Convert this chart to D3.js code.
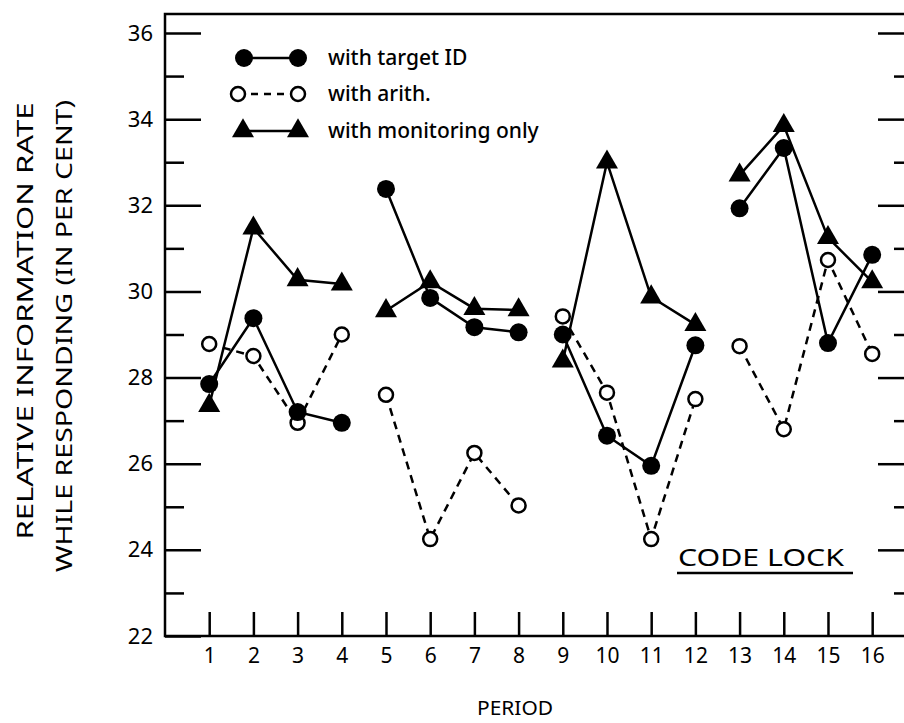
<!DOCTYPE html>
<html>
<head>
<meta charset="utf-8">
<script src="https://cdn.jsdelivr.net/npm/d3@7"></script>
<style>
  body { margin: 0; background: #fff; }
  svg { display: block; font-family: "Noto Sans", "DejaVu Sans", sans-serif; }
</style>
</head>
<body>
<div id="chart"></div>
<script>
// chart values
var periods = [1, 2, 3, 4, 5, 6, 7, 8, 9, 10, 11, 12, 13, 14, 15, 16];
var targetID = [27.85, 29.38, 27.2, 26.95, 32.38, 29.85, 29.17, 29.05,
                29.0, 26.65, 25.95, 28.75, 31.93, 33.33, 28.8, 30.85];
var arith = [28.78, 28.5, 26.95, 29.0, 27.6, 24.25, 26.25, 25.03,
             29.42, 27.65, 24.25, 27.5, 28.73, 26.8, 30.73, 28.55];
var monitoring = [27.35, 31.47, 30.27, 30.17, 29.55, 30.22, 29.6, 29.57,
                  28.38, 33.0, 29.87, 29.23, 32.7, 33.85, 31.25, 30.22];
var blocks = [[1, 4], [5, 8], [9, 12], [13, 16]];
var majorTicks = [22, 24, 26, 28, 30, 32, 34, 36];
var minorTicks = [23, 25, 27, 29, 31, 33, 35];
var legendLabels = ["with target ID", "with arith.", "with monitoring only"];

var WIDTH = 904, HEIGHT = 723;
var LEFT = 165, RIGHT = 904, TOP = 14, BOTTOM = 636;

var svg = d3.select("#chart").append("svg")
    .attr("width", WIDTH)
    .attr("height", HEIGHT);

var x = d3.scaleLinear().domain([0, 16.72]).range([LEFT, RIGHT]);
var y = d3.scaleLinear().domain([22, 36]).range([BOTTOM, 33]);

// frame: left, top and bottom lines
svg.append("path")
    .attr("d", "M" + RIGHT + "," + TOP + "H" + LEFT + "V" + BOTTOM + "H" + RIGHT)
    .attr("fill", "none").attr("stroke", "#000").attr("stroke-width", 2.5);

// left axis, ticks pointing inward
var leftMajor = svg.append("g").attr("transform", "translate(" + LEFT + ",0)")
    .call(d3.axisLeft(y).tickValues(majorTicks).tickSizeInner(-36).tickSizeOuter(0).tickPadding(12));
var leftMinor = svg.append("g").attr("transform", "translate(" + LEFT + ",0)")
    .call(d3.axisLeft(y).tickValues(minorTicks).tickSizeInner(-19).tickSizeOuter(0).tickFormat(""));

// right side ticks, no labels
var rightMajor = svg.append("g").attr("transform", "translate(" + RIGHT + ",0)")
    .call(d3.axisRight(y).tickValues(majorTicks.filter(function (d) { return d > 22; }))
        .tickSizeInner(-26).tickSizeOuter(0).tickFormat(""));
var rightMinor = svg.append("g").attr("transform", "translate(" + RIGHT + ",0)")
    .call(d3.axisRight(y).tickValues(minorTicks).tickSizeInner(-10).tickSizeOuter(0).tickFormat(""));

// bottom axis
var bottomAxis = svg.append("g").attr("transform", "translate(0," + BOTTOM + ")")
    .call(d3.axisBottom(x).tickValues(periods).tickSizeInner(-24).tickSizeOuter(0).tickPadding(12));

svg.selectAll(".domain").remove();
svg.selectAll(".tick line").attr("stroke", "#000").attr("stroke-width", 2.5);
leftMajor.selectAll("text").attr("font-size", 22).attr("fill", "#000").attr("font-family", "Noto Sans");
bottomAxis.selectAll("text").attr("font-size", 21).attr("fill", "#000").attr("font-family", "Noto Sans");

// axis titles
svg.append("text")
    .attr("transform", "translate(33,321) rotate(-90)")
    .attr("text-anchor", "middle")
    .attr("font-size", 21)
    .attr("textLength", 437).attr("lengthAdjust", "spacingAndGlyphs")
    .text("RELATIVE INFORMATION RATE");
svg.append("text")
    .attr("transform", "translate(72,336) rotate(-90)")
    .attr("text-anchor", "middle")
    .attr("font-size", 21)
    .attr("textLength", 472).attr("lengthAdjust", "spacingAndGlyphs")
    .text("WHILE RESPONDING (IN PER CENT)");
svg.append("text")
    .attr("x", 515).attr("y", 715)
    .attr("text-anchor", "middle")
    .attr("font-size", 19)
    .attr("textLength", 76).attr("lengthAdjust", "spacingAndGlyphs")
    .text("PERIOD");

// code lock label
svg.append("text")
    .attr("x", 678).attr("y", 566)
    .attr("font-size", 24)
    .attr("textLength", 166).attr("lengthAdjust", "spacingAndGlyphs")
    .text("CODE LOCK");
svg.append("line")
    .attr("x1", 677).attr("x2", 853).attr("y1", 573).attr("y2", 573)
    .attr("stroke", "#000").attr("stroke-width", 2.5);

// series
var series = [
    { values: arith, dash: "8,6", mark: "open" },
    { values: monitoring, dash: null, mark: "tri" },
    { values: targetID, dash: null, mark: "dot" }
];

var line = d3.line()
    .x(function (d) { return x(d.p); })
    .y(function (d) { return y(d.v); });

var triangle = d3.symbol().type(d3.symbolTriangle).size(210);

function drawMark(g, kind, cx, cy) {
    if (kind === "dot") {
        g.append("circle").attr("cx", cx).attr("cy", cy).attr("r", 9).attr("fill", "#000");
    } else if (kind === "open") {
        g.append("circle").attr("cx", cx).attr("cy", cy).attr("r", 7)
            .attr("fill", "#fff").attr("stroke", "#000").attr("stroke-width", 2.5);
    } else {
        g.append("path").attr("d", triangle()).attr("transform", "translate(" + cx + "," + cy + ")")
            .attr("fill", "#000");
    }
}

var plot = svg.append("g");
series.forEach(function (s) {
    var pts = periods.map(function (p, i) { return { p: p, v: s.values[i] }; });
    blocks.forEach(function (b) {
        var seg = pts.filter(function (d) { return d.p >= b[0] && d.p <= b[1]; });
        plot.append("path").datum(seg)
            .attr("d", line)
            .attr("fill", "none").attr("stroke", "#000").attr("stroke-width", 2.5)
            .attr("stroke-dasharray", s.dash);
    });
});
series.forEach(function (s) {
    periods.forEach(function (p, i) {
        drawMark(plot, s.mark, x(p), y(s.values[i]));
    });
});

// legend
var legend = svg.append("g");
var legendRows = [
    { y: 58, mark: "dot", dash: null, x1: 244 },
    { y: 94, mark: "open", dash: "7,6", x1: 238 },
    { y: 131, mark: "tri", dash: null, x1: 243 }
];
legendRows.forEach(function (r, i) {
    legend.append("line")
        .attr("x1", r.x1).attr("x2", 298).attr("y1", r.y).attr("y2", r.y)
        .attr("stroke", "#000").attr("stroke-width", 2.5)
        .attr("stroke-dasharray", r.dash);
    drawMark(legend, r.mark, r.x1, r.y);
    drawMark(legend, r.mark, 298, r.y);
    legend.append("text")
        .attr("x", 328).attr("y", r.y + 7)
        .attr("font-size", 21)
        .attr("font-weight", 500)
        .text(legendLabels[i]);
});
</script>
</body>
</html>
